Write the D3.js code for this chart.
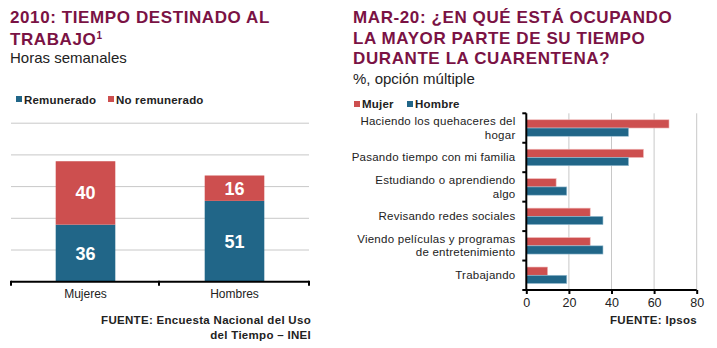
<!DOCTYPE html>
<html><head><meta charset="utf-8">
<script src="https://cdn.jsdelivr.net/npm/d3@7"></script>
<style>
body{margin:0;background:#fff;}
svg{display:block;font-family:Arial,"Liberation Sans",sans-serif;}
</style></head>
<body><svg id="c" width="717" height="348"></svg>
<script>
// Left chart data
const leftCategories = ["Mujeres", "Hombres"];
const remunerado = [36, 51];
const noRemunerado = [40, 16];
const leftGrid = [20, 40, 60, 80, 100];

// Right chart data
const rightCategories = [
  ["Haciendo los quehaceres del", "hogar"],
  ["Pasando tiempo con mi familia"],
  ["Estudiando o aprendiendo", "algo"],
  ["Revisando redes sociales"],
  ["Viendo películas y programas", "de entretenimiento"],
  ["Trabajando"]
];
const mujer = [67, 55, 14, 30, 30, 10];
const hombre = [48, 48, 19, 36, 36, 19];
const rightTicks = [0, 20, 40, 60, 80];

const BLUE = "#216688", RED = "#cd4f4f", TITLE = "#7a1244", TXT = "#222";
const svg = d3.select("#c");

function title(g, x, y, t) {
  return g.append("text").attr("x", x).attr("y", y).attr("fill", TITLE)
    .attr("font-size", 17).attr("font-weight", "bold").attr("letter-spacing", 0.6).text(t);
}
function small(g, x, y, t, anchor) {
  return g.append("text").attr("x", x).attr("y", y).attr("text-anchor", anchor || "start")
    .attr("font-size", 11.5).attr("font-weight", "bold").attr("letter-spacing", 0.3).attr("fill", TXT).text(t);
}

// ---------- LEFT ----------
const L = svg.append("g");
title(L, 10, 23, "2010: TIEMPO DESTINADO AL");
const t2 = title(L, 10, 44.5, "TRABAJO");
t2.append("tspan").attr("font-size", 10).attr("dy", -6).text("1");
L.append("text").attr("x", 10).attr("y", 63).attr("fill", TXT).attr("font-size", 15).text("Horas semanales");

[["Remunerado", BLUE, 16], ["No remunerado", RED, 108]].forEach(([t, c, x]) => {
  L.append("rect").attr("x", x).attr("y", 96).attr("width", 6).attr("height", 6).attr("fill", c);
  small(L, x + 8, 104, t).attr("letter-spacing", 0.2);
});

const xL = d3.scaleBand().domain(leftCategories).range([11, 309]).paddingInner(0.6).paddingOuter(0.3);
const yL = d3.scaleLinear().domain([0, 100]).range([281.7, 123.2]);

L.selectAll(".grid").data(leftGrid).enter().append("line")
  .attr("x1", 11).attr("x2", 309).attr("y1", d => yL(d)).attr("y2", d => yL(d))
  .attr("stroke", "#c8c8c8").attr("stroke-width", 1);

leftCategories.forEach((c, i) => {
  const x = xL(c), w = xL.bandwidth();
  L.append("rect").attr("x", x).attr("width", w).attr("y", yL(remunerado[i])).attr("height", yL(0) - yL(remunerado[i])).attr("fill", BLUE);
  const top = remunerado[i] + noRemunerado[i];
  L.append("rect").attr("x", x).attr("width", w).attr("y", yL(top)).attr("height", yL(remunerado[i]) - yL(top)).attr("fill", RED);
  L.append("text").attr("x", x + w / 2).attr("y", (yL(0) + yL(remunerado[i])) / 2 + 6.5)
    .attr("text-anchor", "middle").attr("fill", "#fff").attr("font-size", 18).attr("font-weight", "bold").text(remunerado[i]);
  L.append("text").attr("x", x + w / 2).attr("y", (yL(remunerado[i]) + yL(top)) / 2 + 6.5)
    .attr("text-anchor", "middle").attr("fill", "#fff").attr("font-size", 18).attr("font-weight", "bold").text(noRemunerado[i]);
});

// x axis left
const axL = L.append("g");
axL.append("line").attr("x1", 11).attr("x2", 309).attr("y1", yL(0)).attr("y2", yL(0)).attr("stroke", "#000").attr("stroke-width", 2);
[11, 159, 309].forEach(x => axL.append("line").attr("x1", x).attr("x2", x).attr("y1", yL(0) - 1).attr("y2", yL(0) + 4).attr("stroke", "#000").attr("stroke-width", 2));
leftCategories.forEach(c => {
  axL.append("text").attr("x", xL(c) + xL.bandwidth() / 2).attr("y", 298).attr("text-anchor", "middle")
    .attr("font-size", 12).attr("fill", TXT).text(c);
});
small(L, 311, 324, "FUENTE: Encuesta Nacional del Uso", "end");
small(L, 311, 339, "del Tiempo – INEI", "end");

// ---------- RIGHT ----------
const R = svg.append("g");
["MAR-20: ¿EN QUÉ ESTÁ OCUPANDO", "LA MAYOR PARTE DE SU TIEMPO", "DURANTE LA CUARENTENA?"].forEach((t, i) => {
  title(R, 353, 23 + i * 20.6, t);
});
R.append("text").attr("x", 353).attr("y", 84).attr("fill", TXT).attr("font-size", 15).text("%, opción múltiple");
[["Mujer", RED, 354], ["Hombre", BLUE, 407]].forEach(([t, c, x]) => {
  R.append("rect").attr("x", x).attr("y", 101).attr("width", 6).attr("height", 6).attr("fill", c);
  small(R, x + 8, 108, t).attr("letter-spacing", 0.2);
});

const xR = d3.scaleLinear().domain([0, 80]).range([526.3, 696.7]);
const yR = d3.scaleBand().domain(d3.range(rightCategories.length)).range([113.3, 290]).paddingInner(0.44).paddingOuter(0.22);
const sub = d3.scaleBand().domain(["m", "h"]).range([0, yR.bandwidth()]);

R.selectAll(".vg").data(rightTicks.slice(1)).enter().append("line")
  .attr("x1", d => xR(d)).attr("x2", d => xR(d)).attr("y1", 113.3).attr("y2", 290)
  .attr("stroke", "#c8c8c8").attr("stroke-width", 1);

rightCategories.forEach((c, i) => {
  R.append("rect").attr("x", xR(0)).attr("y", yR(i) + sub("m")).attr("width", xR(mujer[i]) - xR(0)).attr("height", sub.bandwidth())
    .attr("fill", RED).attr("stroke", "#f0b8b8").attr("stroke-width", 0.6);
  R.append("rect").attr("x", xR(0)).attr("y", yR(i) + sub("h")).attr("width", xR(hombre[i]) - xR(0)).attr("height", sub.bandwidth())
    .attr("fill", BLUE).attr("stroke", "#9cc0d4").attr("stroke-width", 0.6);
  const cy = yR(i) + yR.bandwidth() / 2;
  const n = c.length;
  c.forEach((line, j) => {
    R.append("text").attr("x", 515.5).attr("y", cy + (j - (n - 1) / 2) * 13.2 + 4).attr("text-anchor", "end")
      .attr("font-size", 11.5).attr("letter-spacing", 0.25).attr("fill", TXT).text(line);
  });
});

// y axis right
R.append("line").attr("x1", xR(0)).attr("x2", xR(0)).attr("y1", 113.3).attr("y2", 290).attr("stroke", "#000").attr("stroke-width", 2);
d3.range(rightCategories.length + 1).forEach(k => {
  const y = 113.3 + k * (176.7 / rightCategories.length);
  R.append("line").attr("x1", xR(0) - 4).attr("x2", xR(0)).attr("y1", y).attr("y2", y).attr("stroke", "#000").attr("stroke-width", 2);
});
// x axis right
const axR = R.append("g").attr("transform", "translate(0,290)")
  .call(d3.axisBottom(xR).tickValues(rightTicks).tickSize(4).tickPadding(4));
axR.select(".domain").attr("stroke", "#000").attr("stroke-width", 2).attr("d", `M${xR(0)},0H${xR(80)}`);
axR.selectAll(".tick line").attr("stroke", "#000").attr("stroke-width", 2);
axR.selectAll(".tick text").attr("font-size", 12.5).attr("fill", TXT).attr("font-family", "Arial,'Liberation Sans',sans-serif");

small(R, 697, 324, "FUENTE: Ipsos", "end");
</script></body></html>
